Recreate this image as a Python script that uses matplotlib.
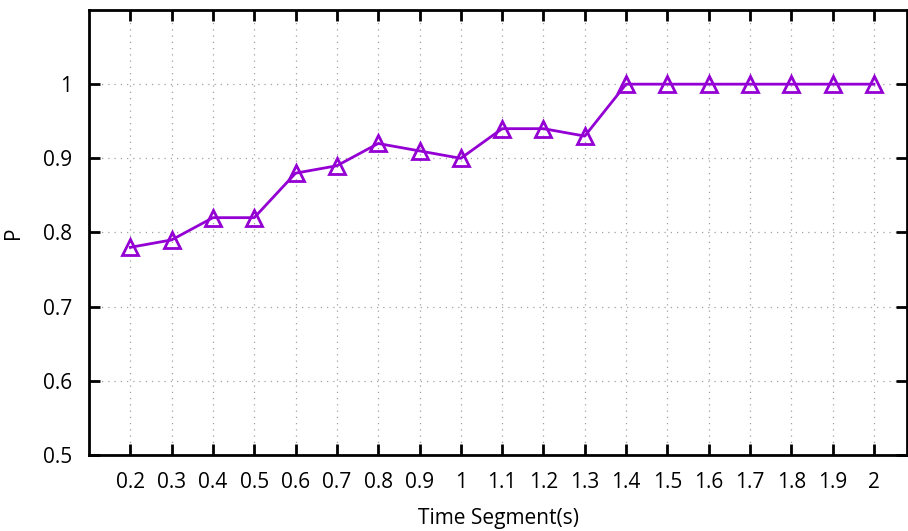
import matplotlib
matplotlib.use("Agg")
import matplotlib.pyplot as plt

segments = [0.2, 0.3, 0.4, 0.5, 0.6, 0.7, 0.8, 0.9, 1.0, 1.1, 1.2, 1.3, 1.4, 1.5, 1.6, 1.7, 1.8, 1.9, 2.0]
p_values = [0.78, 0.79, 0.82, 0.82, 0.88, 0.89, 0.92, 0.91, 0.90, 0.94, 0.94, 0.93,
            1.0, 1.0, 1.0, 1.0, 1.0, 1.0, 1.0]
x_labels = ["0.2", "0.3", "0.4", "0.5", "0.6", "0.7", "0.8", "0.9", "1", "1.1",
            "1.2", "1.3", "1.4", "1.5", "1.6", "1.7", "1.8", "1.9", "2"]
y_ticks = [0.5, 0.6, 0.7, 0.8, 0.9, 1.0]
y_labels = ["0.5", "0.6", "0.7", "0.8", "0.9", "1"]

plt.rcParams['font.family'] = ['Open Sans', 'DejaVu Sans']

fig = plt.figure(figsize=(9.08, 5.31), dpi=100)
ax = fig.add_axes([89 / 908, 76 / 531, 818 / 908, 445 / 531])

ax.plot(segments, p_values, color='#9400D3', linewidth=2, marker='^', markersize=12,
        markerfacecolor='none', markeredgewidth=2, clip_on=False, zorder=3)

ax.set_xlim(0.1, 2.08)
ax.set_ylim(0.5, 1.1)
ax.set_xticks(segments)
ax.set_xticklabels(x_labels)
ax.set_yticks(y_ticks)
ax.set_yticklabels(y_labels)

ax.grid(True, linestyle=(0, (1, 4)), color='#a0a0a0', linewidth=0.9)
ax.tick_params(direction='in', length=8, width=2, top=True, right=True,
               labelsize=15, pad=12)
for s in ax.spines.values():
    s.set_linewidth(2)

ax.set_xlabel("Time Segment(s)", fontsize=15, labelpad=11)
ax.set_ylabel("P", fontsize=15, labelpad=14)

fig.savefig("out.png", dpi=100)
